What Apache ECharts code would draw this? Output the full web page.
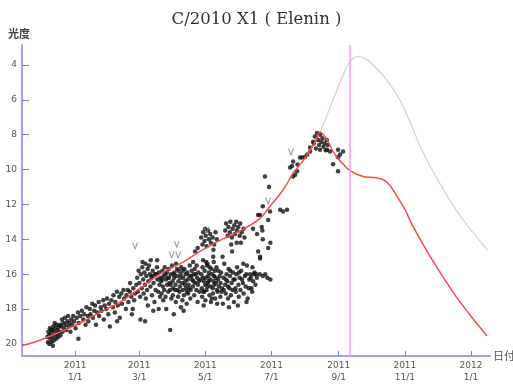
<!DOCTYPE html>
<html><head><meta charset="utf-8">
<script src="https://cdn.jsdelivr.net/npm/echarts@6/dist/echarts.min.js"></script>
<style>html,body{margin:0;padding:0;background:#fff}#c{width:513px;height:384px}</style>
</head><body><div id="c"></div>
<script>
const chartTitle = 'C/2010 X1 ( Elenin )';
const yName = '光度';
const xName = '日付';
// x values are days counted from 2011-01-01
const xTickDays = [0, 59, 120, 181, 243, 304, 365];
const xTickLabels = ['2011\n1/1', '2011\n3/1', '2011\n5/1', '2011\n7/1', '2011\n9/1', '2011\n11/1', '2012\n1/1'];
const yTicks = [4, 6, 8, 10, 12, 14, 16, 18, 20];
const perihelionDay = 253.5;

const predictedCurve = [[-49,20.1],[-32,19.77],[-14,19.31],[4.6,18.8],[23,18.17],[41.5,17.6],[60,16.8],[78,16.0],[99.5,15.31],[115,14.69],[133.6,14.06],[154.8,13.43],[170.5,12.8],[179.7,12.1],[189,11.4],[195,10.85],[201,10.2],[210,9.5],[218,8.75],[223,8.2],[225.8,7.85],[232.3,8.29],[237.8,8.97],[244.2,9.49],[253.5,10.06],[265.4,10.4],[276.5,10.46],[283.9,10.57],[290.3,10.91],[296.8,11.54],[304.1,12.29],[311.5,13.26],[327.2,14.97],[348.4,17.03],[364.1,18.34],[379.7,19.54]];
const brightCurve = [[226,7.85],[234,6.6],[242,5.35],[248,4.45],[253,3.85],[257,3.6],[261,3.52],[265,3.56],[270,3.75],[276,4.08],[283,4.55],[290,5.1],[297,5.75],[304,6.6],[311,7.6],[318,8.65],[326,9.65],[334,10.55],[342,11.4],[350,12.2],[358,12.9],[366,13.55],[374,14.15],[380,14.6]];

const obsDec = [[-25.6,19.6],[-25.1,19.9],[-24.7,19.3],[-24.2,19.5],[-23.8,20.0],[-23.3,19.1],[-22.9,19.7],[-22.4,19.4],[-21.8,19.9],[-21.3,19.2],[-20.9,19.6],[-20.2,19.0],[-19.7,19.8],[-19.1,19.3],[-18.6,19.5],[-18.2,19.1],[-17.5,19.7],[-17.1,18.9],[-16.6,19.4],[-16.0,19.2],[-15.5,19.6],[-15.0,19.0],[-14.4,19.3],[-13.9,18.9],[-13.5,19.5],[-12.8,19.0],[-12.1,18.6],[-11.6,19.3],[-10.9,18.8],[-10.2,19.1],[-9.4,18.5],[-8.8,18.9],[-8.1,19.2],[-7.3,18.7],[-6.5,18.4],[-5.9,19.0],[-5.2,18.8],[-4.3,19.3],[-3.6,18.6],[-2.7,18.9],[-1.8,18.4],[-0.9,18.7],[0.4,19.1],[1.5,18.5],[2.6,18.2],[3.3,18.8],[3.0,19.7],[4.7,18.4],[-22.0,19.2],[-20.5,20.1],[-18.9,18.8]];
const obsJanFeb = [[6.2,18.1],[7.5,18.6],[8.3,18.3],[9.6,18.9],[10.4,17.9],[11.7,18.4],[12.2,18.7],[13.5,18.0],[14.1,18.3],[15.8,17.7],[16.3,18.5],[17.6,18.1],[18.4,17.8],[19.2,18.9],[20.5,18.2],[21.7,17.6],[22.1,18.4],[23.6,17.9],[24.3,18.1],[25.8,17.5],[26.4,18.6],[27.2,17.8],[28.7,18.0],[29.3,17.4],[30.6,18.3],[31.2,17.7],[32.0,19.0],[33.4,17.5],[34.8,17.9],[35.3,17.2],[36.6,18.2],[37.1,17.6],[38.5,17.0],[38.7,18.7],[39.3,17.8],[40.7,17.3],[41.2,18.5],[42.5,17.1],[43.1,17.7],[44.6,16.9],[45.2,17.4],[46.8,18.0],[47.3,17.2],[48.5,16.9],[49.1,17.6],[50.4,17.0],[50.7,16.5],[51.8,17.3],[52.3,18.3],[53.6,16.8],[53.1,18.0],[54.4,17.5],[55.2,17.1]];
const obsMarApr = [[56.4,16.6],[57.2,16.2],[57.8,17.0],[58.5,15.8],[59.3,16.5],[59.9,17.3],[60.6,16.0],[60.2,18.6],[61.4,16.8],[61.9,15.6],[62.7,16.3],[63.1,17.1],[63.8,15.9],[64.3,16.6],[64.5,18.7],[65.6,16.1],[65.2,17.4],[66.8,15.7],[66.3,16.9],[67.5,16.4],[68.1,15.5],[68.9,16.0],[69.4,16.7],[70.2,16.2],[70.8,17.2],[71.5,15.8],[72.3,16.5],[72.0,18.1],[73.6,16.0],[74.1,16.9],[75.4,15.6],[75.9,16.3],[76.5,17.0],[75.6,15.2],[77.2,15.9],[77.8,16.6],[78.6,16.2],[79.3,16.4],[79.7,17.1],[80.4,15.8],[80.9,16.7],[81.5,16.1],[81.2,17.5],[82.6,15.6],[82.1,16.9],[83.7,16.3],[83.3,17.3],[84.5,15.9],[84.9,16.6],[85.4,16.2],[85.8,17.0],[86.2,15.7],[86.9,16.5],[87.5,16.9],[87.6,19.2],[88.3,16.0],[88.7,17.4],[89.2,15.5],[89.9,16.4],[90.4,16.8],[90.1,17.2],[91.6,15.9],[91.3,16.2],[92.5,16.6],[92.8,17.6],[93.1,15.4],[93.7,16.1],[94.4,16.9],[94.9,17.3],[95.5,15.8],[95.2,16.4],[96.6,16.7],[96.1,17.0],[97.3,16.0],[97.8,15.6],[98.4,16.5],[98.9,17.5],[99.6,16.2],[99.1,16.9],[100.7,15.7],[100.3,17.2],[101.5,16.4],[101.9,16.0],[102.2,16.8],[102.8,17.7],[103.4,15.9],[103.9,16.3],[104.6,16.6],[104.1,17.1],[105.3,16.1],[105.7,15.5],[106.5,16.9],[106.2,17.4],[107.8,16.3],[107.4,15.8],[108.6,16.7],[109.3,16.0],[109.8,17.2],[108.8,15.3],[110.5,16.5],[110.2,15.7],[111.7,16.9],[110.6,14.7],[112.4,16.2],[112.9,17.6],[113.5,15.9],[113.2,16.6],[113.0,14.5],[114.6,17.0],[115.4,16.3],
[62.1,15.3],[64.8,15.4],[67.0,17.8],[69.7,15.2],[71.2,16.1],[73.1,17.6],[74.8,16.0],[78.2,17.3],[80.0,16.3],[83.0,16.0],[86.5,16.2],[88.0,16.6],[90.8,16.0],[92.0,16.9],[94.0,15.7],[96.9,16.2],[99.3,15.8],[101.1,16.6],[103.0,17.0],[105.0,16.8],[107.0,16.1],[109.0,16.4],[111.0,16.0],[114.0,16.4],[112.0,15.5],[97.5,17.9],[100.0,18.1],[84.0,18.0],[91.0,18.3],[77.0,18.0]];
const obsMayJun = [[116.3,16.0],[116.8,16.8],[117.5,15.6],[117.1,17.3],[118.6,16.4],[118.2,17.0],[119.4,15.8],[119.9,16.6],[120.5,16.2],[120.1,17.5],[120.8,15.3],[121.6,15.5],[121.2,16.9],[122.7,16.1],[122.3,16.5],[123.8,17.2],[123.4,15.9],[124.9,16.7],[124.5,16.3],[125.2,17.6],[125.7,15.7],[126.4,16.0],[126.9,16.8],[127.6,16.4],[127.1,17.1],[127.3,15.0],[128.8,15.8],[128.4,16.6],[129.5,16.2],[129.1,17.4],[130.7,16.9],[130.3,15.6],[131.8,16.3],[131.4,17.0],[132.5,16.7],[133.2,16.1],[133.9,17.3],[134.6,15.9],[134.1,16.5],[135.4,16.8],[136.7,16.2],[136.2,17.7],[135.9,15.0],[137.5,15.4],[138.3,16.6],[138.8,17.1],[139.6,16.0],[140.4,16.4],[140.9,17.4],[141.5,15.7],[142.2,16.8],[142.8,16.1],[143.6,17.2],[144.3,16.5],[144.7,14.7],[145.5,15.9],[145.1,16.9],[146.4,17.6],[147.2,16.3],[148.6,16.0],[148.1,17.0],[149.3,15.6],[149.0,14.2],[150.5,16.6],[150.9,17.3],[151.6,16.2],[152.4,16.9],[153.1,15.8],[154.7,16.5],[155.3,17.1],[155.0,15.4],[156.5,16.1],[157.2,16.7],[158.4,15.5],[159.1,17.4],[160.6,16.3],[161.3,16.0],[162.5,16.8],[163.2,17.0],[164.1,16.4],[164.6,16.0],[165.4,15.9],[166.2,16.6],[166.8,16.0],[167.5,16.2],[170.2,16.0],[170.5,15.1],[173.1,16.1],[175.3,16.0],[177.2,16.2],[180.0,16.3],
[117.9,16.2],[119.0,17.0],[121.9,16.7],[123.0,16.4],[124.0,15.6],[126.0,17.4],[128.0,16.1],[130.0,16.5],[132.0,15.8],[134.9,17.0],[137.0,16.9],[139.0,16.3],[141.0,16.7],[143.0,15.8],[146.0,16.3],[147.8,16.8],[151.0,15.9],[153.8,16.3],[157.8,16.0],[160.0,16.8],[162.0,16.2],[118.5,17.8],[131.0,17.7],[141.8,17.9],[150.0,17.8],[158.0,17.6],[163.5,15.6],[127.8,15.3],[122.0,15.4],[118.0,15.2],
[116.2,13.9],[117.4,14.3],[118.1,13.6],[119.3,14.1],[120.4,13.8],[121.2,14.4],[122.6,13.5],[123.3,14.0],[124.5,13.7],[125.1,14.2],[126.7,13.9],[128.2,14.3],[129.4,13.6],[130.6,14.0],[119.8,13.4],[127.5,14.6],
[138.4,13.5],[139.2,13.1],[140.6,13.8],[141.3,13.3],[142.7,13.6],[143.1,13.0],[144.5,13.9],[145.2,13.4],[146.8,13.2],[147.3,13.7],[148.6,13.0],[149.1,13.5],[150.4,13.3],[151.7,13.8],[152.2,13.1],[153.5,13.6],[155.3,13.4],[156.1,13.9],[143.9,14.3],[152.8,14.2]];
const obsJulAug = [[164,13.4],[168.7,12.6],[170.5,12.6],[172,13.3],[172.6,13.5],[167.7,13.7],[173,14.0],[180,14.2],[178,14.5],[168.7,14.7],[170.5,15.0],[173,12.1],[175,10.4],[178.8,11.0],[179.7,12.4],[178,12.9],[189,12.3],[191.7,12.4],[195.4,12.3],[198.2,9.89],[200,9.8],[201,10.4],[201,9.54],[202.8,10.3],[204.6,10.1],[205,9.71],[207.4,9.31],[209.2,9.31],[212,9.26],[214,9.14],[216.6,8.97],[216.6,8.74],[219.4,8.4],[220,8.5],[221,8.1],[222,8.8],[223,7.9],[224,8.3],[225,8.6],[225.8,8.86],[226,8.0],[227,8.4],[228,8.2],[229,8.7],[230,8.5],[231,8.9],[232,8.3],[232.3,8.86],[233,8.6],[235,8.97],[237.8,9.7],[242.4,8.86],[242.4,10.1],[244.2,9.14],[247,8.97],[242.4,9.3]];
const upperLimits = [[55.3,14.38],[93.7,14.29],[89,14.9],[95,14.9],[121,13.5],[178,11.8],[199,9.0]];

const observations = obsDec.concat(obsJanFeb, obsMarApr, obsMayJun, obsJulAug);
const axisBlue = '#a0a0ff';
const tickBlue = '#7a7aff';

const chart = echarts.init(document.getElementById('c'), null, {renderer: 'canvas'});
chart.setOption({
  animation: false,
  backgroundColor: '#fff',
  title: {
    text: chartTitle, left: 'center', top: 6,
    textStyle: {fontFamily: 'DejaVu Serif', fontSize: 16.5, fontWeight: 'normal', color: '#333'}
  },
  grid: {left: 22, right: 23, top: 45, bottom: 27},
  xAxis: {
    type: 'value', min: -49, max: 382.5,
    axisLine: {onZero: false, lineStyle: {color: axisBlue, width: 2}},
    axisTick: {show: true, inside: true, length: 5, customValues: xTickDays, lineStyle: {color: tickBlue, width: 1}},
    axisLabel: {
      customValues: xTickDays, margin: 4, fontSize: 9, lineHeight: 12, color: '#555',
      fontFamily: 'DejaVu Sans',
      formatter: v => { const i = xTickDays.indexOf(v); return i >= 0 ? xTickLabels[i] : ''; }
    },
    splitLine: {show: false}
  },
  yAxis: {
    type: 'value', inverse: true, min: 2.86, max: 20.69,
    axisLine: {show: true, onZero: false, lineStyle: {color: axisBlue, width: 2}},
    axisTick: {show: true, inside: true, length: 7, customValues: yTicks, lineStyle: {color: tickBlue, width: 1}},
    axisLabel: {customValues: yTicks, margin: 5, fontSize: 9, color: '#555', fontFamily: 'DejaVu Sans'},
    splitLine: {show: false}
  },
  graphic: [
    {type: 'text', left: 8, top: 28, style: {text: yName, fontSize: 11, fontWeight: 'bold', fill: '#444', fontFamily: 'Noto Sans CJK JP'}},
    {type: 'text', left: 493, top: 350, style: {text: xName, fontSize: 11, fill: '#555', fontFamily: 'Noto Sans CJK JP'}}
  ],
  series: [
    {
      type: 'scatter', data: observations, symbol: 'circle', symbolSize: 4.5,
      itemStyle: {color: '#111'}, z: 2
    },
    {
      type: 'scatter', data: upperLimits,
      symbol: 'path://M0,0L1.3,0L3,5L4.7,0L6,0L3.5,7L2.5,7Z', symbolSize: [6, 7],
      itemStyle: {color: '#888'}, z: 2
    },
    {
      type: 'line', data: brightCurve, smooth: 0.5, showSymbol: false,
      lineStyle: {color: '#d2d2d2', width: 1.2}, z: 3
    },
    {
      type: 'line', data: predictedCurve, smooth: 0.3, showSymbol: false,
      lineStyle: {color: '#ff4a4a', width: 1.5}, z: 4,
      markLine: {
        silent: true, symbol: 'none', label: {show: false},
        lineStyle: {color: '#ff99ff', width: 1.5, type: 'solid'},
        data: [{xAxis: perihelionDay}]
      }
    }
  ]
});
</script>
</body></html>
